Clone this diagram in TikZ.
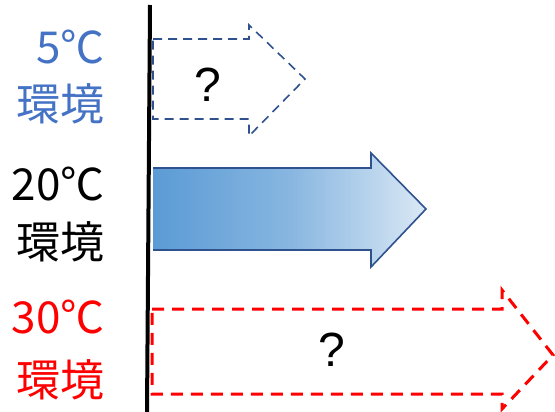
\documentclass[tikz,border=0pt]{standalone}
\usepackage{fontspec}
\setmainfont{Noto Sans CJK JP}
\newfontfamily\qfont{Liberation Sans}
\usepackage{tikz}
\usetikzlibrary{positioning,calc}

\definecolor{coldblue}{HTML}{4472C4}
\definecolor{edgeblue}{HTML}{2F528F}
\definecolor{fillblue}{HTML}{5B9BD5}
\definecolor{paleblue}{HTML}{DAE8F5}
\definecolor{hotred}{HTML}{FF0000}

\tikzset{
  envlabel/.style={anchor=east,inner sep=0pt,font=\fontsize{44}{48}\selectfont},
  qmark/.style={inner sep=0pt,font=\qfont\fontsize{48}{52}\selectfont}
}

\begin{document}
\begin{tikzpicture}[x=1pt,y=-1pt]
  \useasboundingbox (0,0) rectangle (555,412);
  % 5℃：点線の矢印
  \draw[edgeblue,dashed,dash pattern=on 9pt off 6pt,line width=1.6pt,line join=miter]
    (153,39) -- (249,39) -- (249,25) -- (305,79) -- (249,136) -- (249,119) -- (153,119) -- cycle;
  \node[qmark] (q5) at (208,85) {?};
  % 20℃：グラデーションの矢印
  \shade[left color=fillblue,right color=paleblue,middle color=fillblue!65!paleblue]
    (153,168) -- (371,168) -- (371,153) -- (426,209) -- (371,267) -- (371,250) -- (153,250) -- cycle;
  \draw[edgeblue,line width=1.6pt,line join=miter]
    (153,168) -- (371,168) -- (371,153) -- (426,209) -- (371,267) -- (371,250) -- (153,250);
  % 30℃：赤い点線の矢印
  \draw[hotred,dashed,dash pattern=on 12pt off 8pt,line width=3pt,line join=miter]
    (152,309) -- (502,309) -- (502,290) -- (553,355) -- (502,409) -- (502,394) -- (152,394) -- cycle;
  \node[qmark] (q30) at (332,350) {?};
  % 縦の黒線
  \draw[line width=4pt] (150,5) -- (147,412);
  % ラベル
  \node[envlabel,coldblue] (t5) at (105,47) {5℃};
  \node[envlabel,coldblue] (e5) at (105,104) {環境};
  \node[envlabel] (t20) at (105,184) {20℃};
  \node[envlabel] (e20) at (105,242) {環境};
  \node[envlabel,hotred] (t30) at (105,317) {30℃};
  \node[envlabel,hotred] (e30) at (105,380) {環境};
\end{tikzpicture}
\end{document}
